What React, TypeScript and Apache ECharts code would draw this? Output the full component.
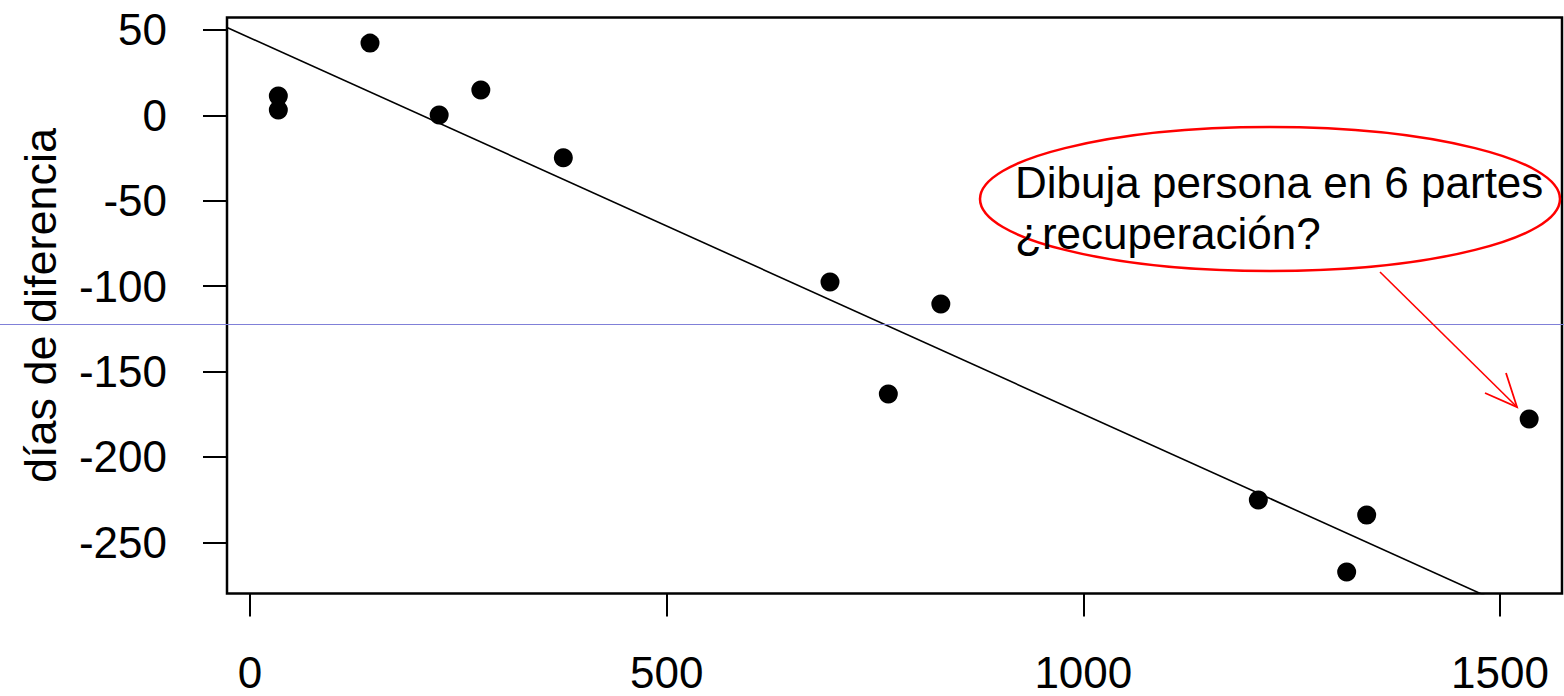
import React, { useEffect, useRef } from "react";
import * as echarts from "echarts";

// Scatter: x = some measure, y = días de diferencia
const pointsX = [34, 34, 144, 227, 277, 376, 696, 766, 829, 1210, 1316, 1340, 1535];
const pointsY = [11.3, 3.1, 42.3, 0.2, 14.8, -24.8, -97.6, -163.2, -110.5, -225.3, -267.4, -234.0, -177.8];

// Fitted line end points (drawn across the plot, clipped)
const fitX = [-27.6, 1574.4];
const fitY = [51.5, -301.6];

const xTicks = [0, 500, 1000, 1500];
const yTicks = [-250, -200, -150, -100, -50, 0, 50];

const yAxisTitle = "días de diferencia";
const noteLines = ["Dibuja persona en 6 partes", "¿recuperación?"];

const FONT = "'Liberation Sans', Arial, sans-serif";

export default function App() {
  const ref = useRef<HTMLDivElement>(null);

  useEffect(() => {
    if (!ref.current) return;
    const chart = echarts.init(ref.current, null, { renderer: "svg" });
    const scatterData = pointsX.map((x, i) => [x, pointsY[i]]);
    const fitData = fitX.map((x, i) => [x, fitY[i]]);

    chart.setOption({
      animation: false,
      backgroundColor: "#ffffff",
      textStyle: { fontFamily: FONT },
      grid: {
        left: 227,
        top: 17.5,
        right: 2,
        bottom: 102.5,
        show: true,
        borderColor: "#000",
        borderWidth: 2.5,
        backgroundColor: "transparent",
      },
      xAxis: {
        type: "value",
        min: -27.6,
        max: 1574.4,
        splitLine: { show: false },
        axisLine: { show: false, onZero: false },
        axisTick: {
          show: true,
          customValues: xTicks,
          length: 23,
          lineStyle: { color: "#000", width: 2 },
        },
        axisLabel: {
          customValues: xTicks,
          margin: 57,
          color: "#000",
          fontSize: 44,
          fontFamily: FONT,
          formatter: (v: number) => String(v),
        },
      },
      yAxis: {
        type: "value",
        min: -280,
        max: 57.3,
        name: yAxisTitle,
        nameLocation: "middle",
        nameGap: 164,
        nameTextStyle: { color: "#000", fontSize: 45, fontFamily: FONT },
        splitLine: { show: false },
        axisLine: { show: false, onZero: false },
        axisTick: {
          show: true,
          customValues: yTicks,
          length: 24,
          lineStyle: { color: "#000", width: 2 },
        },
        axisLabel: {
          customValues: yTicks,
          margin: 60,
          color: "#000",
          fontSize: 44,
          fontFamily: FONT,
          formatter: (v: number) => String(v),
        },
      },
      series: [
        {
          type: "line",
          data: fitData,
          showSymbol: false,
          symbol: "none",
          clip: true,
          lineStyle: { color: "#000", width: 1.6 },
          silent: true,
          z: 2,
        },
        {
          type: "scatter",
          data: scatterData,
          symbol: "circle",
          symbolSize: 19,
          itemStyle: { color: "#000", opacity: 1 },
          z: 3,
        },
      ],
      graphic: [
        {
          type: "line",
          shape: { x1: 0, y1: 324.5, x2: 1564, y2: 324.5 },
          style: { stroke: "#8080d8", lineWidth: 1 },
          z: 10,
        },
        {
          type: "ellipse",
          shape: { cx: 1270, cy: 199, rx: 290, ry: 72 },
          style: { fill: "none", stroke: "#ff0000", lineWidth: 2.5 },
          z: 11,
        },
        {
          type: "text",
          x: 1015,
          y: 182.5,
          style: {
            text: noteLines[0],
            fill: "#000",
            font: `44px ${FONT}`,
            verticalAlign: "middle",
            align: "left",
          },
          z: 12,
        },
        {
          type: "text",
          x: 1015,
          y: 233.5,
          style: {
            text: noteLines[1],
            fill: "#000",
            font: `44px ${FONT}`,
            verticalAlign: "middle",
            align: "left",
          },
          z: 12,
        },
        {
          type: "line",
          shape: { x1: 1380, y1: 272, x2: 1517, y2: 407 },
          style: { stroke: "#ff0000", lineWidth: 1.6 },
          z: 11,
        },
        {
          type: "polyline",
          shape: { points: [[1506, 373], [1517, 407], [1485, 393]] },
          style: { stroke: "#ff0000", lineWidth: 1.8, fill: "none" },
          z: 11,
        },
      ],
    });

    return () => {
      chart.dispose();
    };
  }, []);

  return (
    <div
      ref={ref}
      style={{
        position: "absolute",
        left: 0,
        top: 0,
        width: 1564,
        height: 696,
        background: "#fff",
      }}
    />
  );
}
